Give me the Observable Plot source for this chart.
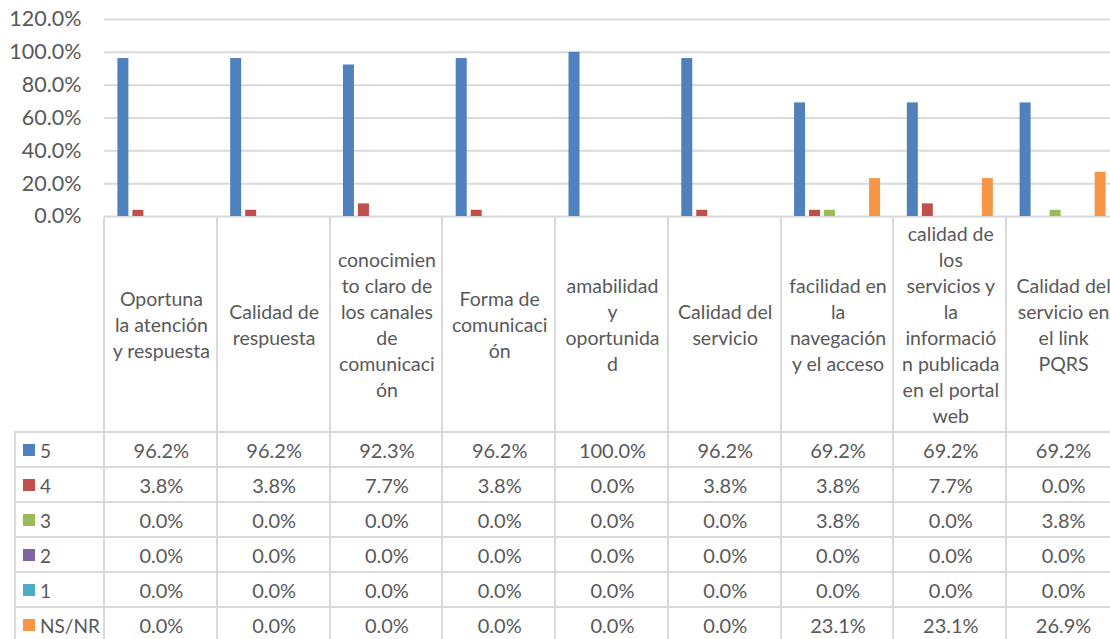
<!DOCTYPE html>
<html><head><meta charset="utf-8">
<script src="https://cdn.jsdelivr.net/npm/d3@7"></script>
<script src="https://cdn.jsdelivr.net/npm/@observablehq/plot@0.6"></script>
<style>
html,body{margin:0;padding:0;background:#fff;overflow:hidden}
#wrap{position:relative;width:1110px;height:639px;overflow:hidden;font-family:Lato,"Open Sans",sans-serif;color:#595959}
.cell{position:absolute;box-sizing:border-box;border-left:2px solid #d9d9d9;display:flex;align-items:center;justify-content:center;text-align:center;white-space:pre;font-size:20px}
.row{border-top:2px solid #d9d9d9}
.hdr{line-height:26px;font-size:19.5px}
.lbl{font-size:19px}
.sw{display:inline-block;width:12px;height:12px;margin-right:5px}
</style></head><body><div id="wrap"></div>
<script>
const categories = [
  "Oportuna\nla atención\ny respuesta",
  "Calidad de\nrespuesta",
  "conocimien\nto claro de\nlos canales\nde\ncomunicaci\nón",
  "Forma de\ncomunicaci\nón",
  "amabilidad\ny\noportunida\nd",
  "Calidad del\nservicio",
  "facilidad en\nla\nnavegación\ny el acceso",
  "calidad de\nlos\nservicios y\nla\ninformació\nn publicada\nen el portal\nweb",
  "Calidad del\nservicio en\nel link\nPQRS"
];
const series = ["5", "4", "3", "2", "1", "NS/NR"];
const colors = ["#4f81bd", "#c0504d", "#9bbb59", "#8064a2", "#4bacc6", "#f79646"];
const values5    = [96.2, 96.2, 92.3, 96.2, 100.0, 96.2, 69.2, 69.2, 69.2];
const values4    = [3.8, 3.8, 7.7, 3.8, 0.0, 3.8, 3.8, 7.7, 0.0];
const values3    = [0.0, 0.0, 0.0, 0.0, 0.0, 0.0, 3.8, 0.0, 3.8];
const values2    = [0.0, 0.0, 0.0, 0.0, 0.0, 0.0, 0.0, 0.0, 0.0];
const values1    = [0.0, 0.0, 0.0, 0.0, 0.0, 0.0, 0.0, 0.0, 0.0];
const valuesNSNR = [0.0, 0.0, 0.0, 0.0, 0.0, 0.0, 23.1, 23.1, 26.9];
const yTicks = [0, 20, 40, 60, 80, 100, 120];

const seriesValues = [values5, values4, values3, values2, values1, valuesNSNR];
const data = [];
series.forEach((s, si) => categories.forEach((c, ci) => data.push({series: s, category: c, value: seriesValues[si][ci]})));

const fmt = d => d.toFixed(1) + "%";

const chart = Plot.plot({
  width: 1120, height: 217,
  marginLeft: 104, marginRight: 1, marginTop: 19, marginBottom: 1,
  style: {fontFamily: "Lato, 'Open Sans', sans-serif", fontSize: "21.5px", color: "#595959", background: "transparent", overflow: "visible", maxWidth: "none"},
  fx: {domain: categories, paddingInner: 0, paddingOuter: 0, round: false, axis: null},
  x: {domain: series, paddingInner: 0.267, paddingOuter: 0.892, round: false, axis: null},
  y: {domain: [0, 120]},
  color: {domain: series, range: colors},
  marks: [
    Plot.gridY(yTicks, {stroke: "#d9d9d9", strokeOpacity: 1, strokeWidth: 2}),
    Plot.axisY(yTicks, {tickFormat: fmt, tickSize: 0, tickPadding: 23, label: null, fill: "#595959", fontSize: 21.5}),
    Plot.barY(data, {fx: "category", x: "series", y: "value", fill: "series"})
  ]
});
chart.style.position = "absolute";
chart.style.left = "0px";
chart.style.top = "0px";
chart.style.maxWidth = "none";
chart.style.width = "1120px";
chart.style.height = "217px";
const wrap = document.getElementById("wrap");
wrap.appendChild(chart);

const fx = chart.scale("fx");
const bw = fx.bandwidth;
function addCell(cls, left, top, width, height, content) {
  const d = document.createElement("div");
  d.className = "cell " + cls;
  d.style.left = left + "px"; d.style.top = top + "px";
  d.style.width = width + "px"; d.style.height = height + "px";
  if (typeof content === "string") d.textContent = content; else d.appendChild(content);
  wrap.appendChild(d);
}
// header row
categories.forEach(c => addCell("hdr", fx.apply(c) - 1, 217, bw + 2, 215, c));
// data rows
const rowTop = 432, rowH = 35;
series.forEach((s, si) => {
  const top = rowTop + si * rowH - 1;
  const lab = document.createElement("span");
  lab.style.display = "flex"; lab.style.alignItems = "center";
  const sw = document.createElement("span"); sw.className = "sw"; sw.style.background = colors[si];
  lab.appendChild(sw); lab.appendChild(document.createTextNode(s));
  const lc = document.createElement("div");
  lc.className = "cell row lbl"; lc.style.left = "14px"; lc.style.top = top + "px";
  lc.style.width = "91px"; lc.style.height = (rowH + 1) + "px";
  lc.style.justifyContent = "flex-start"; lc.style.paddingLeft = "7px";
  lc.appendChild(lab); wrap.appendChild(lc);
  categories.forEach((c, ci) => addCell("row", fx.apply(c) - 1, top, bw + 2, rowH + 1, fmt(seriesValues[si][ci])));
});
</script>
</body></html>
